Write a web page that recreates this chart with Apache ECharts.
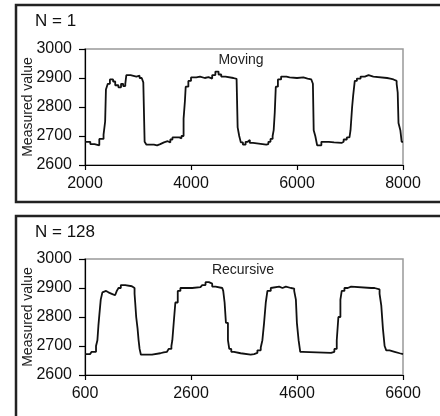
<!DOCTYPE html>
<html>
<head>
<meta charset="utf-8">
<script src="https://cdn.jsdelivr.net/npm/echarts@6/dist/echarts.min.js"></script>
<style>
  html, body { margin: 0; padding: 0; background: #fff; }
  #chart { width: 440px; height: 416px; }
</style>
</head>
<body>
<div id="chart"></div>
<script>
// panel labels
var panelNames = ['N = 1', 'N = 128'];
var seriesNames = ['Moving', 'Recursive'];
var yTicks = [2600, 2700, 2800, 2900, 3000];
var topXTicks = [2000, 4000, 6000, 8000];
var bottomXTicks = [600, 2600, 4600, 6600];

// top panel (moving average), [x, value]
var movingData = [
  [2000,2680],[2100,2672],[2180,2668],[2270,2690],[2350,2705],[2380,2750],[2395,2860],
  [2430,2880],[2470,2895],[2530,2888],[2570,2875],[2630,2868],[2680,2880],[2720,2872],
  [2760,2880],[2780,2910],[2860,2905],[2970,2908],[3030,2900],[3070,2895],[3100,2885],
  [3125,2680],[3160,2670],[3300,2668],[3360,2672],[3420,2678],[3490,2682],[3560,2678],
  [3610,2688],[3650,2695],[3780,2692],[3820,2700],[3860,2760],[3885,2820],[3900,2870],
  [3950,2890],[4000,2902],[4100,2905],[4170,2900],[4260,2903],[4330,2898],[4400,2910],
  [4460,2922],[4520,2912],[4570,2905],[4650,2900],[4800,2897],[4860,2895],[4880,2730],
  [4910,2700],[4940,2678],[4980,2670],[5030,2680],[5070,2686],[5110,2676],[5170,2670],
  [5420,2672],[5460,2680],[5500,2690],[5540,2700],[5560,2720],[5580,2780],[5600,2870],
  [5640,2895],[5700,2905],[5800,2902],[5860,2900],[6000,2902],[6120,2898],[6200,2895],
  [6270,2890],[6300,2880],[6315,2720],[6345,2700],[6380,2668],[6460,2680],[6600,2678],
  [6700,2676],[6840,2680],[6880,2688],[6940,2695],[6990,2700],[7010,2720],[7040,2800],
  [7060,2840],[7090,2890],[7130,2898],[7200,2905],[7280,2910],[7350,2905],[7440,2900],
  [7700,2898],[7760,2895],[7820,2890],[7880,2880],[7900,2850],[7915,2745],[7950,2720],
  [7975,2680],[8000,2680]
];

// bottom panel (recursive), [x, value]
var recursiveData = [
  [600,2672],[695,2676],[726,2680],[808,2700],[834,2720],[853,2770],[872,2810],
  [897,2860],[928,2885],[960,2890],[998,2885],[1042,2880],[1105,2875],[1168,2880],
  [1200,2890],[1232,2900],[1276,2910],[1358,2906],[1484,2905],[1516,2900],[1535,2880],
  [1547,2850],[1566,2800],[1592,2760],[1611,2720],[1630,2690],[1655,2670],[1863,2672],
  [1895,2675],[2021,2678],[2084,2680],[2147,2685],[2179,2690],[2230,2700],[2248,2720],
  [2274,2780],[2305,2850],[2350,2890],[2400,2900],[2621,2903],[2779,2905],[2811,2910],
  [2874,2920],[2937,2915],[3000,2905],[3063,2900],[3190,2898],[3208,2890],[3234,2850],
  [3259,2780],[3297,2720],[3322,2690],[3360,2680],[3411,2675],[3537,2670],[3726,2672],
  [3790,2676],[3853,2685],[3916,2695],[3947,2720],[3979,2780],[4011,2850],[4042,2890],
  [4105,2900],[4137,2905],[4263,2900],[4326,2905],[4390,2900],[4484,2898],[4547,2890],
  [4579,2860],[4598,2780],[4630,2720],[4661,2680],[4705,2676],[5242,2680],[5305,2690],
  [5350,2720],[5381,2800],[5419,2860],[5444,2890],[5495,2900],[5558,2905],[5621,2900],
  [6000,2900],[6063,2895],[6158,2880],[6190,2840],[6221,2760],[6253,2700],[6284,2685],
  [6347,2680],[6442,2675],[6537,2672],[6600,2672]
];

var font = 'Arial, "Liberation Sans", Helvetica, sans-serif';
var plain = function (v) { return String(v); };

function xAxisFor(idx, ticks) {
  return {
    type: 'value', gridIndex: idx,
    min: ticks[0], max: ticks[ticks.length - 1],
    interval: ticks[1] - ticks[0],
    axisLine: { show: true, lineStyle: { color: '#000', width: 1.2 } },
    axisTick: { show: true, length: 5, lineStyle: { color: '#000', width: 1.2 } },
    axisLabel: { color: '#111', fontSize: 16, fontFamily: font, margin: 11, formatter: plain },
    splitLine: { show: false }
  };
}
function yAxisFor(idx) {
  return {
    type: 'value', gridIndex: idx,
    min: yTicks[0], max: yTicks[yTicks.length - 1], interval: 100,
    axisLine: { show: true, lineStyle: { color: '#000', width: 1.2 } },
    axisTick: { show: true, length: 6, lineStyle: { color: '#000', width: 1.2 } },
    axisLabel: { color: '#111', fontSize: 16, fontFamily: font, margin: 13, formatter: plain },
    splitLine: { show: false }
  };
}

var chart = echarts.init(document.getElementById('chart'), null, { renderer: 'canvas' });
chart.setOption({
  animation: false,
  backgroundColor: '#fff',
  grid: [
    { left: 85, top: 49, width: 318, height: 116, show: true, borderColor: '#999', borderWidth: 1.5 },
    { left: 85, top: 259, width: 318, height: 116, show: true, borderColor: '#999', borderWidth: 1.5 }
  ],
  xAxis: [xAxisFor(0, topXTicks), xAxisFor(1, bottomXTicks)],
  yAxis: [yAxisFor(0), yAxisFor(1)],
  series: [
    { name: seriesNames[0], type: 'line', xAxisIndex: 0, yAxisIndex: 0, step: 'end', showSymbol: false,
      lineStyle: { color: '#111', width: 1.8 }, data: movingData },
    { name: seriesNames[1], type: 'line', xAxisIndex: 1, yAxisIndex: 1, step: 'end', showSymbol: false,
      lineStyle: { color: '#111', width: 1.8 }, data: recursiveData }
  ],
  graphic: [
    { type: 'rect', shape: { x: 16, y: 5, width: 440, height: 197 }, style: { fill: 'none', stroke: '#222', lineWidth: 2.5 } },
    { type: 'rect', shape: { x: 16, y: 216, width: 440, height: 260 }, style: { fill: 'none', stroke: '#222', lineWidth: 2.5 } },
    { type: 'text', x: 35, y: 21, style: { text: panelNames[0], font: '17px ' + font, fill: '#111', verticalAlign: 'middle' } },
    { type: 'text', x: 35, y: 232, style: { text: panelNames[1], font: '17px ' + font, fill: '#111', verticalAlign: 'middle' } },
    { type: 'text', x: 241, y: 60, style: { text: seriesNames[0], font: '14px ' + font, fill: '#222', align: 'center', verticalAlign: 'middle' } },
    { type: 'text', x: 243, y: 270, style: { text: seriesNames[1], font: '14px ' + font, fill: '#222', align: 'center', verticalAlign: 'middle' } },
    { type: 'text', x: 28, y: 107, rotation: Math.PI / 2, style: { text: 'Measured value', font: '14px ' + font, fill: '#222', align: 'center', verticalAlign: 'middle' } },
    { type: 'text', x: 28, y: 317, rotation: Math.PI / 2, style: { text: 'Measured value', font: '14px ' + font, fill: '#222', align: 'center', verticalAlign: 'middle' } }
  ]
});
</script>
</body>
</html>
